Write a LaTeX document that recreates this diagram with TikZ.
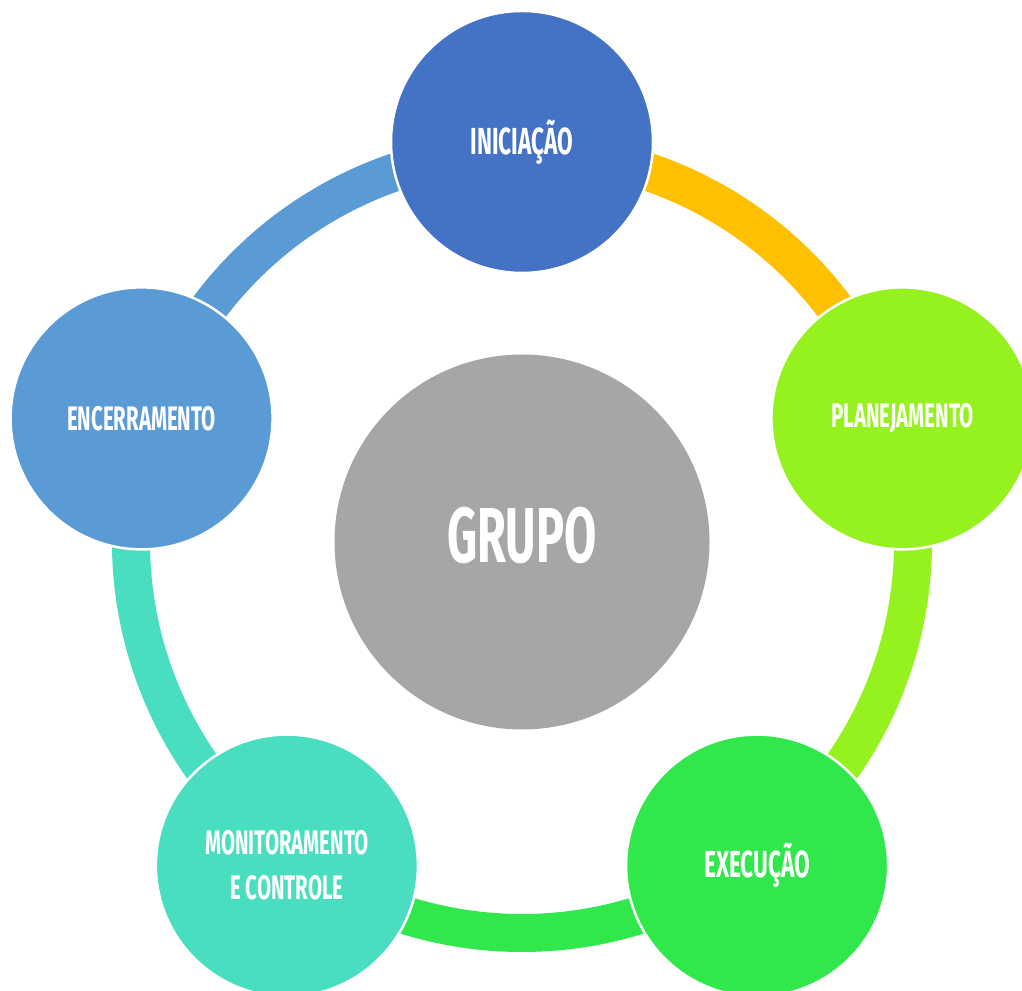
\documentclass[tikz,border=0pt]{standalone}
\usepackage{fontspec}
\setmainfont{Fira Sans}[FakeStretch=0.6]
\usetikzlibrary{backgrounds}

\definecolor{cIni}{RGB}{68,114,196}
\definecolor{cOra}{RGB}{255,192,0}
\definecolor{cPla}{RGB}{150,242,30}
\definecolor{cExe}{RGB}{48,232,76}
\definecolor{cMon}{RGB}{74,222,192}
\definecolor{cEnc}{RGB}{91,155,213}
\definecolor{cGrupo}{RGB}{166,166,166}

\tikzset{
  etapa/.style={circle,draw=white,line width=2.5pt,minimum size=262pt,inner sep=0pt,text=white,align=center},
  ring/.style={line width=38pt},
  rotulo/.style={font=\fontsize{34}{45}\selectfont\bfseries},
  rotuloG/.style={font=\fontsize{37.7}{45}\selectfont\bfseries}
}

\begin{document}
\begin{tikzpicture}[x=1pt,y=1pt]
\useasboundingbox (0,0) rectangle (1022,990);
\clip (0,0) rectangle (1022,990);

\begin{scope}[shift={(522,448)}]
\node(grupo) at (0,0)[circle,fill=cGrupo,minimum size=375pt,inner sep=0pt]{};
\node(grupotxt) at (0,7)[text=white,font=\fontsize{78}{80}\selectfont\bfseries]{GRUPO};

\node(ini) at (90:400)[etapa,fill=cIni,rotuloG]{INICIAÇÃO};
\node(pla) at (18:400)[etapa,fill=cPla,rotulo]{PLANEJAMENTO};
\node(exe) at (-54:400)[etapa,fill=cExe,rotuloG]{EXECUÇÃO};
\node(mon) at (-126:400)[etapa,fill=cMon,rotulo]{MONITORAMENTO\\E CONTROLE};
\node(enc) at (162:400)[etapa,fill=cEnc,rotulo]{ENCERRAMENTO};
\end{scope}

% ring behind the circles
\begin{pgfonlayer}{background}
\foreach \a/\nm/\cor in {90/ini/cOra,18/pla/cPla,-54/exe/cExe,-126/mon/cMon,162/enc/cEnc}
  \draw[ring,\cor] (\nm.center) ++(\a+180:9) arc[start angle=\a,delta angle=-72,radius=391];
\end{pgfonlayer}

\end{tikzpicture}
\end{document}
